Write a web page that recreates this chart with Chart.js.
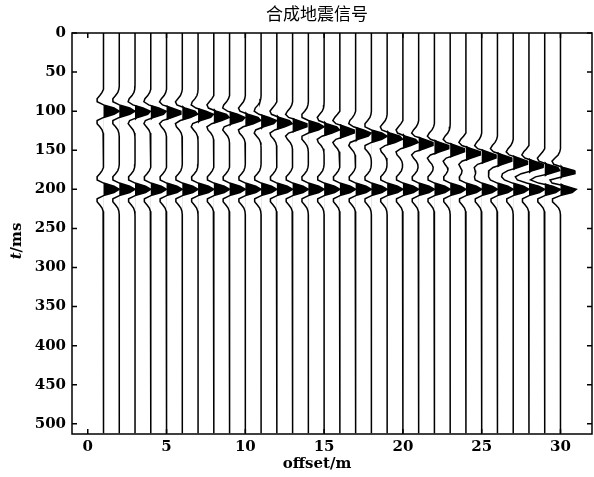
<!DOCTYPE html>
<html>
<head>
<meta charset="utf-8">
<style>
  html, body { margin: 0; padding: 0; background: #fff; }
  #wrap { width: 594px; height: 477px; }
</style>
<script src="https://cdn.jsdelivr.net/npm/chart.js@4.4.1/dist/chart.umd.min.js"></script>
</head>
<body>
<div id="wrap"><canvas id="wiggle" width="594" height="477"></canvas></div>
<script>
// trace offsets (m)
const offsets = [1, 2, 3, 4, 5, 6, 7, 8, 9, 10, 11, 12, 13, 14, 15,
                 16, 17, 18, 19, 20, 21, 22, 23, 24, 25, 26, 27, 28, 29, 30];
// dipping reflection, arrival time per trace (ms)
const dipArrivals = [100, 100, 101, 101, 102, 103, 105, 107, 109, 111, 113, 115, 118, 120, 123,
                     126, 129, 132, 135, 139, 142, 146, 150, 154, 158, 162, 166, 170, 175, 179];
// flat reflection, arrival time per trace (ms)
const flatArrivals = [200, 200, 200, 200, 200, 200, 200, 200, 200, 200, 200, 200, 200, 200, 200,
                      200, 200, 200, 200, 200, 200, 200, 200, 200, 200, 200, 200, 200, 200, 200];
// one side of the symmetric 28 Hz Ricker wavelet, 1 ms steps from the peak
const waveletHalf = [1.000, 0.977, 0.910, 0.803, 0.665, 0.505, 0.335, 0.165, 0.006, -0.135,
                     -0.253, -0.342, -0.403, -0.437, -0.446, -0.435, -0.409, -0.371, -0.327, -0.281,
                     -0.235, -0.192, -0.153, -0.120, -0.092, -0.069, -0.051, -0.037, -0.026, -0.018,
                     -0.012, -0.008, -0.005, -0.003, -0.002, -0.001];
const recordLength = 513; // ms
const sampleStep = 4;     // ms
const xTicks = [0, 5, 10, 15, 20, 25, 30];
const yTicks = [0, 50, 100, 150, 200, 250, 300, 350, 400, 450, 500];

const serif = '"DejaVu Serif", "Liberation Serif", serif';

function traceAmp(i, t) {
  let a = 0;
  [dipArrivals[i], flatArrivals[i]].forEach(t0 => {
    const k = Math.abs(t - t0);
    if (k < waveletHalf.length) a += waveletHalf[k];
  });
  return a;
}

const datasets = [];
offsets.forEach((off, i) => {
  const times = [], amps = [];
  for (let t = 0; t <= recordLength; t += sampleStep) {
    times.push(t);
    amps.push(traceAmp(i, t));
  }
  // each trace scaled to its own peak
  const peak = Math.max(...amps.map(Math.abs));
  const line = times.map((t, k) => ({x: off + amps[k] / peak, y: t}));
  const pos = times.map((t, k) => ({x: off + Math.max(amps[k], 0) / peak, y: t}));
  // variable-area fill of the positive lobes
  datasets.push({
    data: pos, showLine: true, pointRadius: 0,
    borderColor: 'rgba(0,0,0,0)', borderWidth: 0,
    backgroundColor: '#000', fill: {value: off}
  });
  // wiggle
  datasets.push({
    data: line, showLine: true, pointRadius: 0,
    borderColor: '#000', borderWidth: 1.5, fill: false
  });
});

const frame = {
  id: 'frame',
  afterDraw(chart) {
    const {ctx, chartArea: a, scales: {x, y}} = chart;
    ctx.save();
    ctx.strokeStyle = '#000';
    ctx.lineWidth = 1.5;
    ctx.strokeRect(a.left, a.top, a.right - a.left, a.bottom - a.top);
    ctx.beginPath();
    xTicks.forEach(v => {
      const px = x.getPixelForValue(v);
      ctx.moveTo(px, a.bottom); ctx.lineTo(px, a.bottom - 5);
      ctx.moveTo(px, a.top); ctx.lineTo(px, a.top + 5);
    });
    yTicks.forEach(v => {
      const py = y.getPixelForValue(v);
      ctx.moveTo(a.left, py); ctx.lineTo(a.left + 5, py);
      ctx.moveTo(a.right, py); ctx.lineTo(a.right - 5, py);
    });
    ctx.stroke();

    ctx.fillStyle = '#000';
    ctx.textAlign = 'center';
    ctx.textBaseline = 'middle';
    ctx.font = '17px "Noto Sans CJK SC", sans-serif';
    ctx.fillText('合成地震信号', 317, 14);
    ctx.font = 'bold 15px ' + serif;
    ctx.fillText('offset/m', 317, 464);

    // y title: italic t followed by /ms
    ctx.translate(17, 241);
    ctx.rotate(-Math.PI / 2);
    ctx.textAlign = 'left';
    ctx.font = 'italic bold 15px ' + serif;
    const wT = ctx.measureText('t').width;
    ctx.font = 'bold 15px ' + serif;
    const wR = ctx.measureText('/ms').width;
    const x0 = -(wT + wR) / 2;
    ctx.font = 'italic bold 15px ' + serif;
    ctx.fillText('t', x0, 0);
    ctx.font = 'bold 15px ' + serif;
    ctx.fillText('/ms', x0 + wT, 0);
    ctx.restore();
  }
};

new Chart(document.getElementById('wiggle'), {
  type: 'scatter',
  data: {datasets},
  options: {
    responsive: false,
    animation: false,
    indexAxis: 'y',
    events: [],
    layout: {padding: {top: 33, right: 2, left: 0, bottom: 0}},
    plugins: {legend: {display: false}, tooltip: {enabled: false}, title: {display: false}},
    scales: {
      x: {
        type: 'linear', min: -1, max: 32,
        grid: {display: false, drawTicks: false},
        border: {display: false},
        ticks: {color: '#000', padding: 4, font: {family: serif, size: 15, weight: 'bold'}},
        afterBuildTicks: s => { s.ticks = xTicks.map(v => ({value: v})); },
        afterFit: s => { s.height = 43; }
      },
      y: {
        type: 'linear', min: 0, max: recordLength, reverse: true,
        grid: {display: false, drawTicks: false},
        border: {display: false},
        ticks: {color: '#000', padding: 6, font: {family: serif, size: 15, weight: 'bold'}},
        afterBuildTicks: s => { s.ticks = yTicks.map(v => ({value: v})); },
        afterFit: s => { s.width = 72; }
      }
    }
  },
  plugins: [frame]
});
</script>
</body>
</html>
